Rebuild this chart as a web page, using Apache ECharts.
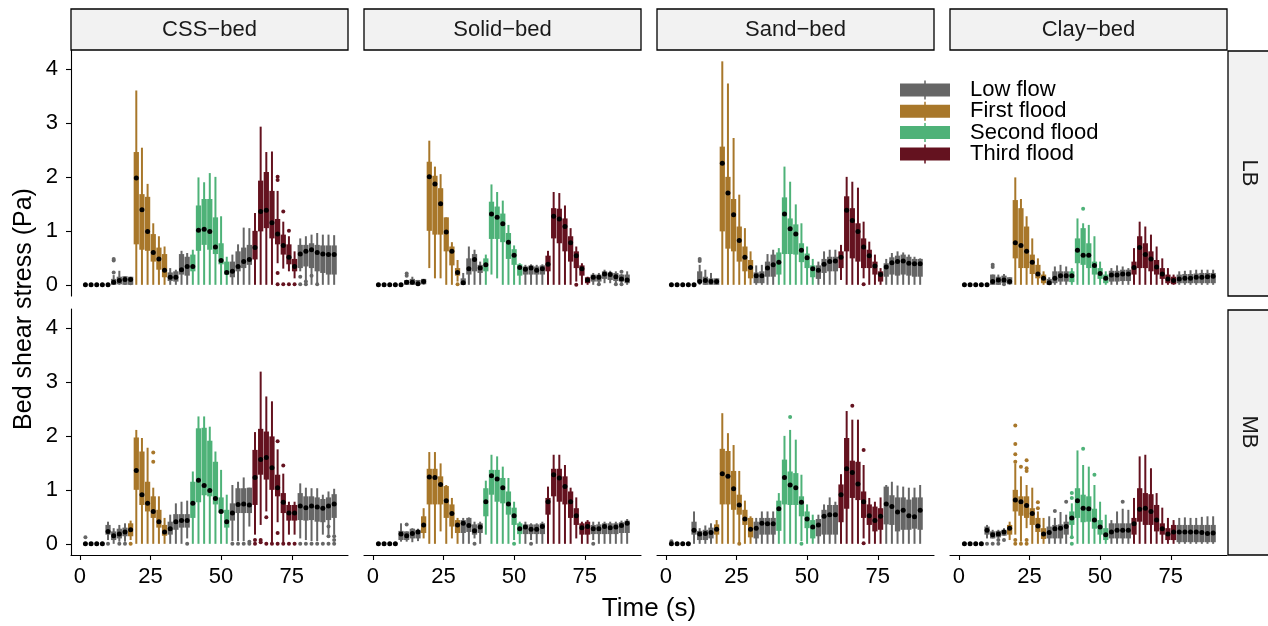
<!DOCTYPE html>
<html>
<head>
<meta charset="utf-8">
<script src="https://cdn.jsdelivr.net/npm/echarts@6/dist/echarts.min.js"></script>
<style>
  html, body { margin: 0; padding: 0; background: #ffffff; }
  #chart { width: 1268px; height: 626px; }
</style>
</head>
<body>
<div id="chart"></div>
<script>
// Time steps (s) at which bed shear stress was sampled
const timeSteps = [2,4,6,8,10,12,14,16,18,20,22,24,26,28,30,32,34,36,38,40,42,44,46,48,50,52,54,56,58,60,62,64,66,68,70,72,74,76,78,80,82,84,86,88,90];

// Flow phase at each time step (0 low flow, 1 first flood, 2 second flood, 3 third flood)
const phaseLB = [0,0,0,0,0,0,0,0,0,1,1,1,1,1,1,0,0,0,0,2,2,2,2,2,2,2,0,0,0,0,3,3,3,3,3,3,3,3,0,0,0,0,0,0,0];
const phaseMB = [0,0,0,0,0,0,0,0,1,1,1,1,1,1,1,0,0,0,0,2,2,2,2,2,2,2,0,0,0,0,3,3,3,3,3,3,3,3,0,0,0,0,0,0,0];

const phaseNames = ['Low flow', 'First flood', 'Second flood', 'Third flood'];
const bedNames = ['CSS\u2212bed', 'Solid\u2212bed', 'Sand\u2212bed', 'Clay\u2212bed'];
const rowNames = ['LB', 'MB'];

// Box statistics per time step: [lower whisker, Q1, median, Q3, upper whisker] in Pa
const cssLB = [
  [0,0,0,0,0],[0,0,0,0,0],[0,0,0,0,0],[0,0,0,0,0],[0,0,0,0,0],
  [0,0,0.05,0.11,0.18],[0,0.01,0.08,0.15,0.26],[0,0,0.10,0.16,0.16],[0,0,0.10,0.15,0.15],
  [0,0.75,1.98,2.46,3.60],[0,0.65,1.39,1.68,2.54],[0,0.63,0.99,1.63,1.87],[0,0.43,0.60,0.94,1.14],[0,0.28,0.48,0.69,0.90],[0,0.14,0.27,0.57,0.71],
  [0,0.07,0.14,0.23,0.31],[0,0.06,0.14,0.25,0.28],[0,0.19,0.28,0.57,0.63],[0,0.17,0.34,0.52,0.59],
  [0,0.25,0.34,0.56,0.65],[0,0.63,1.01,1.47,1.99],[0,0.74,1.03,1.59,1.90],[0,0.65,0.99,1.59,2.07],[0,0.57,0.70,1.25,2.00],[0,0.38,0.45,0.77,1.27],[0,0.19,0.23,0.43,0.52],
  [0,0.14,0.25,0.43,0.56],[0,0.25,0.34,0.62,0.75],[0,0.31,0.43,0.69,1.06],[0,0.37,0.47,0.74,1.05],
  [0,0.47,0.69,1.00,1.33],[0,0.99,1.36,1.93,2.93],[0,1.05,1.38,2.09,2.46],[0,0.86,1.15,1.74,2.47],[0.40,0.75,0.94,1.22,1.74],[0.30,0.56,0.73,0.93,1.17],[0.25,0.38,0.51,0.75,0.90],[0.12,0.25,0.34,0.48,0.62],
  [0.25,0.31,0.57,0.74,0.86],[0.05,0.34,0.62,0.74,0.90],[0,0.31,0.65,0.77,0.93],[0,0.25,0.60,0.74,0.96],[0,0.22,0.57,0.73,0.93],[0,0.19,0.56,0.73,0.93],[0,0.19,0.56,0.73,0.92]
];
const solidLB = [
  [0,0,0,0,0],[0,0,0,0,0],[0,0,0,0,0],[0,0,0,0,0],[0,0,0,0,0],
  [0,0,0.05,0.09,0.09],[0,0,0.05,0.11,0.15],[0,0,0.02,0.09,0.09],[0,0.01,0.06,0.11,0.11],
  [0.31,1.00,2.00,2.28,2.67],[0.12,0.93,1.87,2.02,2.19],[0.12,0.93,1.50,1.79,2.05],[0,0.62,0.98,1.25,1.25],[0,0.36,0.62,0.71,0.79],[0.06,0.17,0.23,0.31,0.46],
  [0,0,0.04,0.12,0.22],[0,0.19,0.30,0.49,0.71],[0,0.25,0.47,0.57,0.65],[0,0.22,0.31,0.37,0.43],
  [0,0.25,0.37,0.49,0.56],[0.19,0.85,1.31,1.54,1.86],[0.12,0.85,1.25,1.45,1.72],[0,0.79,1.13,1.32,1.56],[0,0.48,0.79,0.96,1.11],[0,0.37,0.55,0.66,0.73],[0,0.17,0.32,0.38,0.40],
  [0,0.19,0.29,0.34,0.37],[0,0.19,0.31,0.36,0.38],[0,0.19,0.27,0.34,0.37],[0,0.19,0.30,0.36,0.38],
  [0,0.25,0.38,0.54,0.63],[0,0.86,1.27,1.42,1.72],[0,0.77,1.22,1.41,1.70],[0,0.62,1.08,1.23,1.47],[0,0.43,0.78,0.90,1.05],[0.06,0.31,0.54,0.62,0.71],[0,0.17,0.30,0.36,0.40],[0,0.03,0.09,0.14,0.15],
  [0,0.06,0.14,0.19,0.22],[0.03,0.06,0.14,0.19,0.22],[0.03,0.11,0.20,0.25,0.28],[0.03,0.09,0.19,0.23,0.26],[0.03,0.07,0.15,0.22,0.25],[0.03,0.06,0.11,0.19,0.20],[0,0.03,0.09,0.19,0.25]
];
const sandLB = [
  [0,0,0,0,0],[0,0,0,0,0],[0,0,0,0,0],[0,0,0,0,0],[0,0,0,0,0],
  [0,0.06,0.06,0.25,0.37],[0,0,0.08,0.15,0.28],[0,0,0.06,0.12,0.22],[0,0,0.06,0.12,0.12],
  [0,0.99,2.25,2.56,4.14],[0,0.67,1.70,2.00,3.73],[0,0.62,1.30,1.59,2.72],[0,0.43,0.82,1.08,1.67],[0,0.25,0.51,0.71,1.05],[0,0.12,0.32,0.46,0.62],
  [0,0.03,0.17,0.23,0.36],[0,0.03,0.17,0.25,0.37],[0,0.15,0.31,0.43,0.57],[0,0.15,0.37,0.56,0.65],
  [0,0.19,0.42,0.60,0.68],[0,0.57,1.31,1.62,2.19],[0,0.57,1.04,1.23,1.91],[0,0.56,0.94,1.12,1.49],[0,0.42,0.64,0.77,1.14],[0,0.31,0.50,0.58,0.71],[0,0.14,0.30,0.36,0.48],
  [0,0.11,0.27,0.36,0.43],[0,0.22,0.38,0.48,0.62],[0,0.25,0.43,0.52,0.65],[0,0.25,0.44,0.52,0.65],
  [0.09,0.31,0.51,0.62,0.74],[0,0.62,1.38,1.64,2.00],[0,0.49,1.19,1.42,1.91],[0,0.43,0.99,1.14,1.80],[0.12,0.31,0.70,0.86,1.17],[0,0.31,0.54,0.65,0.80],[0,0.19,0.35,0.43,0.56],[0,0.06,0.19,0.25,0.31],
  [0,0.15,0.33,0.40,0.48],[0,0.19,0.41,0.51,0.59],[0,0.17,0.43,0.54,0.62],[0,0.19,0.44,0.56,0.60],[0,0.17,0.40,0.52,0.56],[0,0.15,0.39,0.48,0.52],[0,0.15,0.39,0.48,0.49]
];
const clayLB = [
  [0,0,0,0,0],[0,0,0,0,0],[0,0,0,0,0],[0,0,0,0,0],[0,0,0,0,0],
  [0,0,0.06,0.19,0.19],[0,0,0.09,0.15,0.19],[0,0.03,0.09,0.17,0.20],[0,0.01,0.06,0.14,0.14],
  [0,0.49,0.78,1.57,1.99],[0,0.31,0.73,1.42,1.59],[0,0.31,0.62,1.08,1.27],[0,0.20,0.42,0.56,0.86],[0,0.12,0.20,0.37,0.49],[0,0.03,0.12,0.19,0.25],
  [0,0,0.04,0.11,0.14],[0,0.03,0.12,0.25,0.34],[0,0.06,0.17,0.25,0.37],[0,0.06,0.17,0.25,0.34],
  [0,0.05,0.17,0.25,0.31],[0,0.40,0.64,0.86,1.23],[0,0.37,0.55,1.05,1.14],[0,0.31,0.55,0.77,1.11],[0,0.19,0.36,0.43,0.90],[0,0.11,0.21,0.31,0.43],[0,0.03,0.12,0.19,0.25],
  [0,0.06,0.18,0.26,0.31],[0,0.06,0.18,0.26,0.36],[0,0.07,0.20,0.28,0.34],[0,0.07,0.20,0.28,0.31],
  [0,0.19,0.32,0.43,0.68],[0,0.31,0.69,0.90,1.17],[0,0.31,0.56,0.77,1.08],[0,0.25,0.48,0.62,0.93],[0,0.19,0.33,0.46,0.71],[0,0.11,0.20,0.31,0.49],[0,0.03,0.11,0.19,0.31],[0,0.01,0.08,0.15,0.19],
  [0,0.03,0.11,0.19,0.25],[0,0.03,0.12,0.20,0.26],[0,0.03,0.12,0.20,0.27],[0,0.03,0.14,0.21,0.28],[0,0.03,0.14,0.22,0.28],[0,0.03,0.15,0.22,0.28],[0,0.03,0.16,0.22,0.28]
];
const cssMB = [
  [0,0,0,0,0],[0,0,0,0,0],[0,0,0,0,0],[0,0,0,0,0],
  [0.07,0.17,0.23,0.35,0.41],[0,0.07,0.15,0.23,0.29],[0.04,0.10,0.18,0.28,0.35],[0.04,0.14,0.22,0.30,0.38],
  [0.07,0.14,0.26,0.38,0.43],[0,1.00,1.36,1.97,2.11],[0,0.72,0.91,1.71,1.96],[0,0.60,0.75,1.15,1.78],[0,0.48,0.60,0.88,1.04],[0,0.30,0.41,0.63,0.88],[0,0.15,0.22,0.35,0.48],
  [0,0.17,0.28,0.41,0.54],[0,0.26,0.41,0.55,0.75],[0,0.30,0.43,0.55,0.78],[0.10,0.30,0.43,0.55,0.80],
  [0,0.48,0.75,1.15,1.34],[0,0.77,1.18,2.14,2.36],[0,0.90,1.08,2.15,2.36],[0,0.88,0.99,1.91,2.17],[0,0.73,0.84,1.52,1.71],[0,0.57,0.60,0.86,1.37],[0,0.30,0.41,0.63,0.91],
  [0.05,0.43,0.57,0.75,1.09],[0.05,0.57,0.73,1.03,1.15],[0.05,0.57,0.74,1.03,1.23],[0.32,0.57,0.72,1.04,1.04],
  [0.17,0.72,1.23,1.74,2.07],[0.35,1.28,1.56,2.13,3.19],[0.60,1.19,1.60,2.08,2.73],[0,1.00,1.41,1.99,2.64],[0.40,0.88,1.04,1.28,1.75],[0,0.57,0.77,0.94,1.30],[0.17,0.43,0.57,0.72,0.78],[0.17,0.43,0.57,0.72,0.78],
  [0.10,0.44,0.70,0.94,1.12],[0.07,0.43,0.67,0.88,1.04],[0.05,0.44,0.70,0.88,1.03],[0.05,0.41,0.68,0.86,1.03],[0.17,0.40,0.66,0.83,0.91],[0.17,0.44,0.70,0.86,0.97],[0.17,0.48,0.74,0.92,1.02]
];
const solidMB = [
  [0,0,0,0,0],[0,0,0,0,0],[0,0,0,0,0],[0,0,0,0,0],
  [0.04,0.07,0.18,0.24,0.38],[0.04,0.07,0.15,0.23,0.23],[0.03,0.10,0.19,0.28,0.29],[0.05,0.10,0.22,0.26,0.28],
  [0.10,0.20,0.35,0.51,0.66],[0,0.73,1.24,1.39,1.70],[0,0.73,1.23,1.39,1.70],[0.23,0.73,1.10,1.25,1.49],[0,0.48,0.80,1.07,1.09],[0.10,0.32,0.56,0.73,0.85],[0,0.20,0.35,0.44,0.48],
  [0,0.20,0.38,0.44,0.48],[0,0.22,0.34,0.48,0.49],[0.10,0.17,0.24,0.36,0.41],[0,0.20,0.31,0.38,0.41],
  [0.17,0.51,0.78,1.03,1.17],[0,0.91,1.26,1.37,1.65],[0,0.78,1.20,1.37,1.62],[0,0.75,1.04,1.22,1.43],[0,0.54,0.74,0.97,1.22],[0.07,0.35,0.52,0.67,0.78],[0,0.18,0.28,0.38,0.41],
  [0,0.18,0.31,0.36,0.41],[0.07,0.18,0.27,0.36,0.38],[0,0.18,0.27,0.36,0.38],[0,0.18,0.32,0.38,0.41],
  [0,0.54,0.78,0.85,1.06],[0,0.88,1.28,1.39,1.65],[0,0.78,1.22,1.39,1.65],[0,0.73,1.06,1.25,1.46],[0,0.48,0.78,0.97,1.04],[0.10,0.35,0.52,0.66,0.86],[0,0.17,0.30,0.38,0.41],[0,0.17,0.32,0.41,0.44],
  [0.07,0.18,0.28,0.35,0.41],[0,0.18,0.28,0.36,0.41],[0,0.18,0.32,0.38,0.41],[0,0.18,0.30,0.38,0.41],[0,0.18,0.31,0.38,0.41],[0,0.20,0.34,0.40,0.43],[0,0.20,0.38,0.43,0.46]
];
const sandMB = [
  [0,0,0,0,0],[0,0,0,0,0],[0,0,0,0,0],[0,0,0,0,0],
  [0,0.17,0.25,0.41,0.60],[0,0.07,0.18,0.24,0.29],[0,0.07,0.19,0.26,0.34],[0,0.10,0.21,0.30,0.38],
  [0,0.17,0.27,0.36,0.44],[0,0.73,1.30,1.76,2.42],[0,0.73,1.25,1.72,2.05],[0,0.63,1.02,1.35,1.83],[0,0.54,0.72,0.91,1.35],[0,0.35,0.46,0.63,0.80],[0,0.12,0.27,0.48,0.51],
  [0,0.10,0.29,0.41,0.48],[0,0.17,0.38,0.48,0.60],[0,0.17,0.37,0.48,0.60],[0,0.17,0.37,0.48,0.60],
  [0,0.24,0.65,0.80,0.94],[0,0.73,1.23,1.56,2.00],[0,0.72,1.09,1.34,2.11],[0,0.72,1.04,1.31,1.93],[0.05,0.51,0.77,0.88,1.28],[0,0.29,0.46,0.60,0.73],[0,0.10,0.31,0.44,0.54],
  [0,0.14,0.35,0.46,0.54],[0,0.17,0.51,0.63,0.73],[0,0.17,0.54,0.72,0.86],[0,0.17,0.54,0.72,0.78],
  [0,0.40,0.91,1.10,1.29],[0,0.65,1.39,1.96,2.46],[0,0.85,1.32,1.54,2.30],[0,0.81,1.11,1.52,2.30],[0.10,0.48,0.78,0.97,1.46],[0,0.35,0.52,0.73,0.85],[0,0.23,0.43,0.69,0.78],[0,0.26,0.51,0.66,0.86],
  [0,0.36,0.74,1.06,1.09],[0,0.35,0.69,0.90,1.15],[0,0.23,0.59,0.86,1.08],[0,0.26,0.62,0.86,1.06],[0,0.26,0.52,0.82,1.04],[0,0.28,0.50,0.86,1.04],[0,0.26,0.62,0.86,1.09]
];
const clayMB = [
  [0,0,0,0,0],[0,0,0,0,0],[0,0,0,0,0],[0,0,0,0,0],
  [0.10,0.17,0.25,0.32,0.35],[0.10,0.10,0.17,0.23,0.26],[0.10,0.12,0.18,0.24,0.26],[0.15,0.15,0.22,0.26,0.29],
  [0.07,0.17,0.29,0.35,0.41],[0.17,0.60,0.81,1.00,1.49],[0.04,0.52,0.78,0.88,1.25],[0.29,0.48,0.71,0.88,1.09],[0,0.35,0.56,0.66,1.04],[0,0.22,0.33,0.48,0.60],[0,0.09,0.18,0.29,0.48],
  [0,0.10,0.21,0.32,0.51],[0,0.10,0.28,0.35,0.48],[0,0.10,0.29,0.36,0.59],[0,0.17,0.32,0.41,0.54],
  [0.12,0.35,0.48,0.60,0.75],[0,0.48,0.80,1.03,1.73],[0,0.40,0.66,0.91,1.46],[0,0.41,0.65,0.88,1.43],[0,0.28,0.44,0.65,1.09],[0,0.17,0.31,0.44,0.78],[0,0.07,0.17,0.29,0.54],
  [0,0.10,0.22,0.38,0.44],[0,0.10,0.25,0.38,0.60],[0,0.10,0.25,0.38,0.65],[0,0.10,0.25,0.38,0.63],
  [0,0.17,0.37,0.48,0.85],[0,0.41,0.64,1.03,1.62],[0,0.35,0.66,0.94,1.65],[0,0.35,0.60,0.92,1.40],[0,0.23,0.44,0.72,0.94],[0,0.17,0.28,0.38,0.67],[0,0.07,0.18,0.29,0.48],[0,0.07,0.22,0.35,0.44],
  [0,0.03,0.22,0.35,0.48],[0,0.03,0.22,0.35,0.49],[0,0.03,0.22,0.35,0.48],[0,0.03,0.22,0.35,0.48],[0,0.03,0.21,0.35,0.50],[0,0.03,0.19,0.35,0.51],[0,0.03,0.20,0.35,0.51]
];

// Outlying observations: [time (s), stress (Pa)]
const cssLBOut = [[12,0.45],[12,0.48],[12,0.23],[18,0.03],[70,2.00],[70,1.94],[70,0.22],[70,0.01],[72,1.36],[72,0.01],[74,1.00],[74,0.01],[76,0.01],[78,0.15],[78,0.01],[80,0.06],[80,0.01],[82,0.17],[84,0.01]];
const solidLBOut = [[12,0.21],[12,0.17],[30,0.01],[72,0.00],[80,0.01],[86,0.01],[88,0.24],[88,0.01]];
const sandLBOut = [[12,0.48],[12,0.44],[70,0.01]];
const clayLBOut = [[12,0.37],[12,0.33],[16,0.01],[44,1.41]];
const cssMBOut = [[2,0.12],[10,0.00],[14,0.00],[16,0.00],[18,0.00],[26,1.69],[26,1.52],[38,0.00],[54,0.00],[56,0.00],[58,0.00],[60,0.04],[60,0.00],[62,0.07],[62,0.00],[64,0.07],[64,0.03],[66,0.49],[66,0.00],[68,0.00],[70,1.90],[70,0.20],[70,0.00],[72,1.45],[72,0.00],[74,0.00],[76,0.00],[78,0.00],[80,0.00],[82,0.00],[84,0.00],[86,0.00],[88,0.32],[88,0.14],[88,0.00],[90,0.14],[90,0.07],[90,0.00]];
const solidMBOut = [[12,0.36],[36,0.00],[50,0.00],[56,0.00],[78,0.00]];
const sandMBOut = [[2,0.05],[26,0.00],[44,2.35],[48,0.00],[66,2.56],[70,1.74],[70,0.01]];
const clayMBOut = [[10,0.00],[12,0.00],[14,0.07],[14,0.00],[16,0.07],[20,2.19],[20,1.85],[20,1.66],[20,1.52],[20,0.07],[20,0.00],[22,1.43],[22,0.00],[24,1.55],[24,1.40],[24,1.35],[24,0.07],[24,0.00],[28,0.77],[28,0.66],[34,0.61],[38,0.78],[40,0.94],[40,0.85],[40,0.12],[40,0.00],[44,1.76],[48,1.28],[58,0.78]];

// ---- styling and layout ----
const phaseColors = ['#666666', '#A8772A', '#4EB278', '#64121F'];
const FONT = "'Liberation Sans', Arial, Helvetica, sans-serif";
const colLeft = [71, 364, 657, 950];
const rowTop = [50, 309];
const panelW = 277;
const panelH = 246;
const boxHalf = 0.93;       // half box width in time units
const whiskerPx = 2;        // whisker line width in pixels

const panels = [
  { row: 0, col: 0, stats: cssLB,   out: cssLBOut },
  { row: 0, col: 1, stats: solidLB, out: solidLBOut },
  { row: 0, col: 2, stats: sandLB,  out: sandLBOut },
  { row: 0, col: 3, stats: clayLB,  out: clayLBOut },
  { row: 1, col: 0, stats: cssMB,   out: cssMBOut },
  { row: 1, col: 1, stats: solidMB, out: solidMBOut },
  { row: 1, col: 2, stats: sandMB,  out: sandMBOut },
  { row: 1, col: 3, stats: clayMB,  out: clayMBOut }
];
const phaseRows = [phaseLB, phaseMB];

function phaseAt(row, t) {
  const i = timeSteps.indexOf(t);
  return i < 0 ? 0 : phaseRows[row][i];
}

function renderBox(params, api) {
  const t = api.value(0);
  const lo = api.coord([t, api.value(1)]);
  const q1 = api.coord([t, api.value(2)]);
  const q3 = api.coord([t, api.value(4)]);
  const hi = api.coord([t, api.value(5)]);
  const xl = api.coord([t - boxHalf, 0])[0];
  const xr = api.coord([t + boxHalf, 0])[0];
  const color = api.visual('color');
  return {
    type: 'group',
    children: [
      { type: 'rect', shape: { x: lo[0] - whiskerPx / 2, y: hi[1], width: whiskerPx, height: Math.max(0, lo[1] - hi[1]) }, style: { fill: color } },
      { type: 'rect', shape: { x: xl, y: q3[1], width: xr - xl, height: Math.max(0, q1[1] - q3[1]) }, style: { fill: color } }
    ]
  };
}

const grids = [], xAxes = [], yAxes = [], series = [];

panels.forEach((p, k) => {
  grids.push({ left: colLeft[p.col], top: rowTop[p.row], width: panelW, height: panelH, containLabel: false });
  const showX = p.row === 1;
  const showY = p.col === 0;
  xAxes.push({
    type: 'value', gridIndex: k, min: -3.1, max: 94.9,
    splitLine: { show: false },
    axisLine: { show: showX, onZero: false, lineStyle: { color: '#000', width: 1.1 } },
    axisTick: { show: showX, length: 5, customValues: [0, 25, 50, 75], lineStyle: { color: '#000', width: 1.1 } },
    axisLabel: { show: showX, customValues: [0, 25, 50, 75], margin: 11, color: '#000', fontSize: 22, fontFamily: FONT }
  });
  yAxes.push({
    type: 'value', gridIndex: k, min: -0.207, max: 4.35,
    splitLine: { show: false },
    axisLine: { show: showY, onZero: false, lineStyle: { color: '#000', width: 1.1 } },
    axisTick: { show: showY, length: 5, customValues: [0, 1, 2, 3, 4], lineStyle: { color: '#000', width: 1.1 } },
    axisLabel: { show: showY, customValues: [0, 1, 2, 3, 4], margin: 13, color: '#000', fontSize: 22, fontFamily: FONT }
  });

  const phases = phaseRows[p.row];
  for (let ph = 0; ph < 4; ph++) {
    const data = [];
    timeSteps.forEach((t, i) => {
      if (phases[i] === ph) data.push([t].concat(p.stats[i]));
    });
    series.push({
      type: 'custom', name: phaseNames[ph], xAxisIndex: k, yAxisIndex: k,
      renderItem: renderBox, data: data, z: 2,
      itemStyle: { color: phaseColors[ph] },
      encode: { x: 0, y: [1, 2, 3, 4, 5] }
    });
  }
  series.push({
    type: 'scatter', name: 'outliers', xAxisIndex: k, yAxisIndex: k, z: 3,
    symbolSize: 4, data: p.out,
    itemStyle: { color: (prm) => phaseColors[phaseAt(p.row, prm.value[0])], opacity: 1 }
  });
  series.push({
    type: 'scatter', name: 'median', xAxisIndex: k, yAxisIndex: k, z: 4,
    symbolSize: 5, data: timeSteps.map((t, i) => [t, p.stats[i][2]]),
    itemStyle: { color: '#000', opacity: 1 }
  });
});

// facet strips and axis titles
const graphics = [];
bedNames.forEach((name, c) => {
  graphics.push({ type: 'rect', shape: { x: colLeft[c], y: 9, width: panelW, height: 41 },
    style: { fill: '#F2F2F2', stroke: '#000', lineWidth: 1.3 }, z: 10 });
  graphics.push({ type: 'text', x: colLeft[c] + panelW / 2, y: 30,
    style: { text: name, align: 'center', verticalAlign: 'middle', fontSize: 22, fontFamily: FONT, fill: '#1a1a1a' }, z: 11 });
});
rowNames.forEach((name, r) => {
  graphics.push({ type: 'rect', shape: { x: 1228, y: rowTop[r] + 1, width: 50, height: panelH - 1 },
    style: { fill: '#F2F2F2', stroke: '#000', lineWidth: 1.3 }, z: 10 });
  graphics.push({ type: 'text', x: 1249, y: rowTop[r] + panelH / 2, rotation: -Math.PI / 2,
    style: { text: name, align: 'center', verticalAlign: 'middle', fontSize: 22, fontFamily: FONT, fill: '#1a1a1a' }, z: 11 });
});
graphics.push({ type: 'text', x: 649, y: 609,
  style: { text: 'Time (s)', align: 'center', verticalAlign: 'middle', fontSize: 26, fontFamily: FONT, fill: '#000' } });
graphics.push({ type: 'text', x: 24, y: 309, rotation: Math.PI / 2,
  style: { text: 'Bed shear stress (Pa)', align: 'center', verticalAlign: 'middle', fontSize: 25, fontFamily: FONT, fill: '#000' } });

const legendIcon = 'path://M0 3H50V16H0Z M24.25 0H25.75V19H24.25Z';

const chart = echarts.init(document.getElementById('chart'), null, { renderer: 'canvas' });
chart.setOption({
  animation: false,
  backgroundColor: '#ffffff',
  grid: grids,
  xAxis: xAxes,
  yAxis: yAxes,
  legend: {
    data: phaseNames.map(n => ({ name: n, icon: legendIcon })),
    orient: 'vertical', left: 900, top: 79, padding: 0,
    itemWidth: 50, itemHeight: 19, itemGap: -0.7,
    selectedMode: false,
    textStyle: { fontSize: 22, color: '#000', fontFamily: FONT, padding: [0, 0, 0, 15] }
  },
  graphic: graphics,
  series: series
});
</script>
</body>
</html>
